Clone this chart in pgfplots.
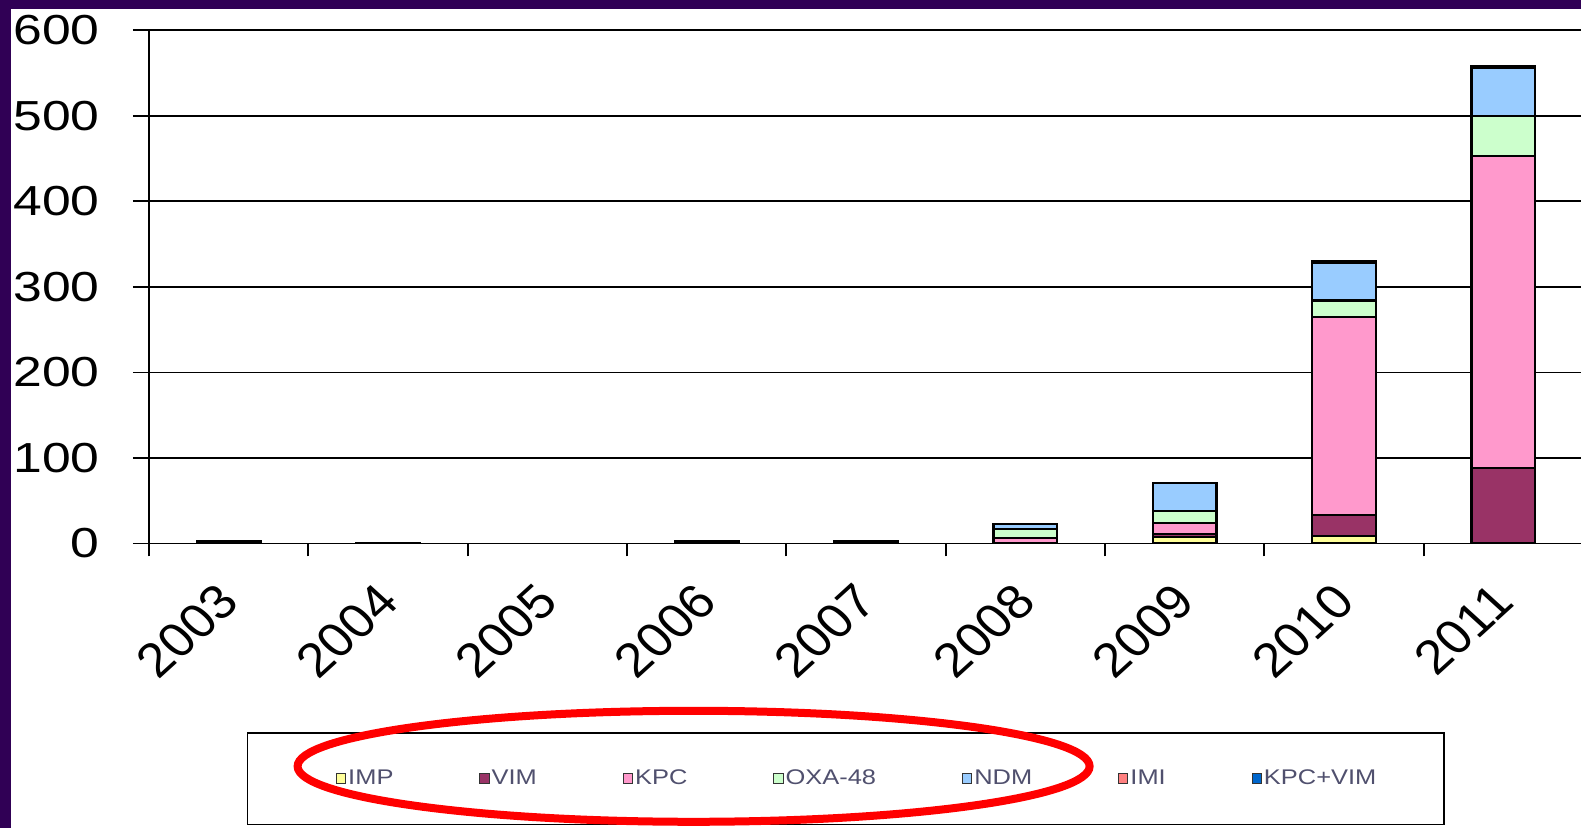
\documentclass[border=0pt]{standalone}
\usepackage{fontspec}
\setmainfont{Liberation Sans}
\usepackage{graphicx}
\usepackage{pgfplots}
\pgfplotsset{compat=1.18}
\definecolor{bgpurple}{RGB}{48,0,85}
\definecolor{cIMP}{RGB}{255,255,153}
\definecolor{cVIM}{RGB}{153,51,102}
\definecolor{cKPC}{RGB}{255,153,204}
\definecolor{cOXA}{RGB}{204,255,204}
\definecolor{cNDM}{RGB}{153,204,255}
\definecolor{cIMI}{RGB}{255,128,128}
\definecolor{cKV}{RGB}{0,102,204}
\definecolor{legtext}{RGB}{80,80,110}
\pgfplotsset{firstleg/.style={legend image code/.code={\path (0pt,0pt); \draw[##1, draw=black!80, line width=0.5pt] (11pt,-2.3pt) rectangle (15.6pt,2.3pt);}}}
\begin{document}
\begin{tikzpicture}
\fill[bgpurple] (-74.5pt,-142.25pt) rectangle (716pt,271.75pt);
\fill[white] (-69pt,-142.25pt) rectangle (716pt,267.25pt);
\begin{axis}[
  at={(0pt,0pt)}, anchor=south west,
  scale only axis, width=717pt, height=256.6pt,
  ybar stacked, bar width=31.75pt,
  xmin=-0.5, xmax=8.5, ymin=0, ymax=600,
  xtick={0,...,8},
  xticklabels={2003,2004,2005,2006,2007,2008,2009,2010,2011},
  minor xtick={-0.5,0.5,...,8.5},
  ytick={0,100,...,600},
  axis x line*=bottom, axis y line*=left,
  ymajorgrids,
  grid style={black, line width=0.9pt},
  axis line style={black, line width=0.9pt},
  tick style={black, line width=0.9pt},
  tick align=outside,
  major tick length=8pt, minor tick length=6.5pt,
  major x tick style={draw=none},
  /pgf/number format/assume math mode=true,
  yticklabel style={xshift=-16.5pt, font=\fontsize{21}{24}\selectfont, anchor=east, xscale=1.23, inner sep=0pt},
  xticklabel style={xshift=-6.5pt, yshift=-10.5pt, font=\fontsize{24}{28}\selectfont, anchor=north east, xscale=1.1, rotate=45, inner sep=0pt},
  every axis plot/.append style={draw=black, line width=1.1pt},
  legend columns=7,
  legend image code/.code={\draw[#1, draw=black!80, line width=0.5pt] (0pt,-2.3pt) rectangle (4.6pt,2.3pt);},
  legend style={at={(0.486,-0.458)}, anchor=center, draw=black, line width=0.9pt,
    font=\fontsize{10.6}{12}\selectfont, text=legtext,
    inner xsep=33pt, inner ysep=17.5pt,
    nodes={inner sep=1pt},
    /tikz/every even column/.append style={column sep=42pt}},
]
\addplot[fill=cIMP, firstleg] coordinates {(0,0) (1,0.5) (2,0) (3,0) (4,0) (5,0) (6,8) (7,9) (8,0)};
\addlegendentry{\scalebox{1.2}[1]{IMP}}
\addplot[fill=cVIM] coordinates {(0,2.5) (1,0) (2,0) (3,2.5) (4,2.5) (5,1) (6,3) (7,24) (8,88)};
\addlegendentry{\scalebox{1.2}[1]{VIM}}
\addplot[fill=cKPC] coordinates {(0,0) (1,0) (2,0) (3,0) (4,0) (5,5) (6,13) (7,232) (8,365)};
\addlegendentry{\scalebox{1.2}[1]{KPC}}
\addplot[fill=cOXA] coordinates {(0,0) (1,0) (2,0) (3,0) (4,0) (5,11) (6,14) (7,19) (8,47)};
\addlegendentry{\scalebox{1.2}[1]{OXA-48}}
\addplot[fill=cNDM] coordinates {(0,0) (1,0) (2,0) (3,0) (4,0) (5,6) (6,33) (7,44) (8,56)};
\addlegendentry{\scalebox{1.2}[1]{NDM}}
\addplot[fill=cIMI] coordinates {(0,0) (1,0) (2,0) (3,0) (4,0) (5,0) (6,0) (7,0) (8,0)};
\addlegendentry{\scalebox{1.2}[1]{IMI}}
\addplot[fill=cKV] coordinates {(0,0) (1,0) (2,0) (3,0) (4,0) (5,0) (6,0) (7,2) (8,2)};
\addlegendentry{\scalebox{1.2}[1]{KPC+VIM}}
\end{axis}
\draw[red, line width=4pt] (272.3pt,-111.4pt) ellipse [x radius=198pt, y radius=27.75pt];
\pgfresetboundingbox
\useasboundingbox (-74.5pt,-142.25pt) rectangle (716pt,271.75pt);
\end{tikzpicture}
\end{document}
